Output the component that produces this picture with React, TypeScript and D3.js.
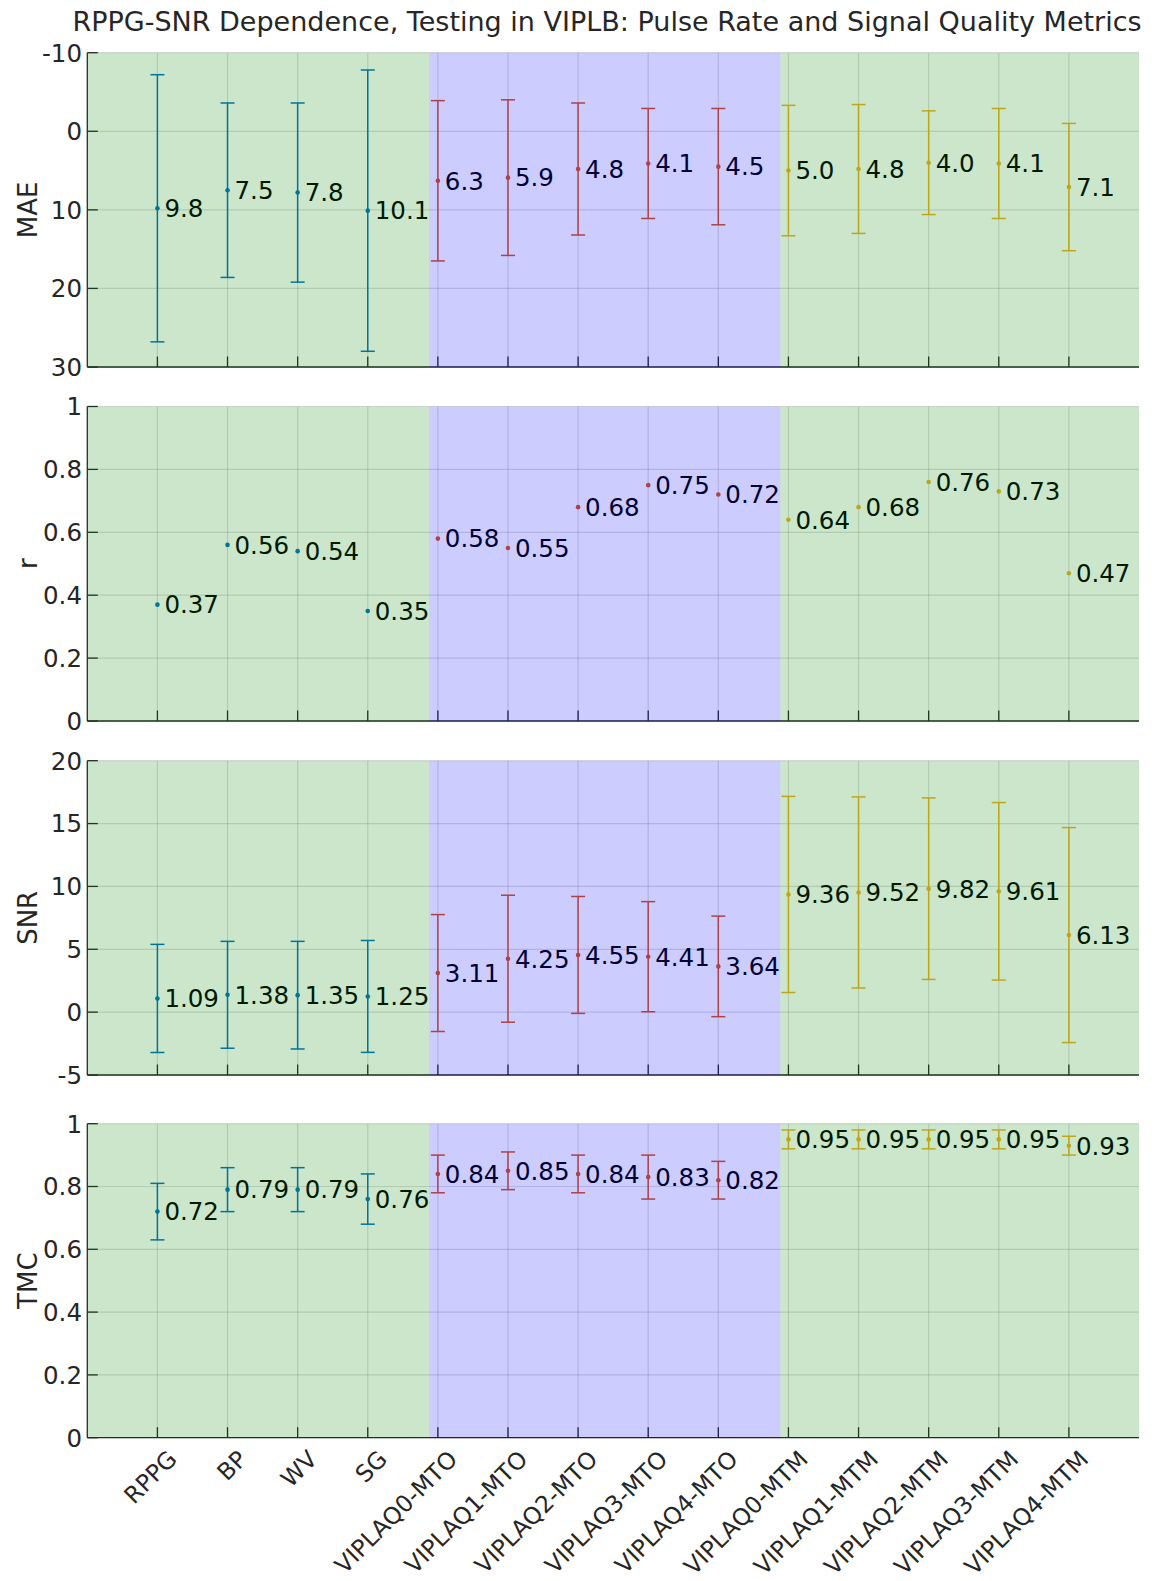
import React from 'react';
import * as d3 from 'd3';

const categories = ['RPPG', 'BP', 'WV', 'SG', 'VIPLAQ0-MTO', 'VIPLAQ1-MTO', 'VIPLAQ2-MTO', 'VIPLAQ3-MTO', 'VIPLAQ4-MTO', 'VIPLAQ0-MTM', 'VIPLAQ1-MTM', 'VIPLAQ2-MTM', 'VIPLAQ3-MTM', 'VIPLAQ4-MTM'];
const groupOf = [0, 0, 0, 0, 1, 1, 1, 1, 1, 2, 2, 2, 2, 2];

const maeMean = [9.8, 7.5, 7.8, 10.1, 6.3, 5.9, 4.8, 4.1, 4.5, 5.0, 4.8, 4.0, 4.1, 7.1];
const maeStd = [17.0, 11.1, 11.4, 17.9, 10.2, 9.9, 8.4, 7.0, 7.4, 8.3, 8.2, 6.6, 7.0, 8.1];
const rMean = [0.37, 0.56, 0.54, 0.35, 0.58, 0.55, 0.68, 0.75, 0.72, 0.64, 0.68, 0.76, 0.73, 0.47];
const snrMean = [1.09, 1.38, 1.35, 1.25, 3.11, 4.25, 4.55, 4.41, 3.64, 9.36, 9.52, 9.82, 9.61, 6.13];
const snrStd = [4.3, 4.25, 4.28, 4.45, 4.65, 5.05, 4.65, 4.38, 4.0, 7.8, 7.6, 7.22, 7.06, 8.55];
const tmcMean = [0.72, 0.79, 0.79, 0.76, 0.84, 0.85, 0.84, 0.83, 0.82, 0.95, 0.95, 0.95, 0.95, 0.93];
const tmcStd = [0.09, 0.07, 0.07, 0.08, 0.06, 0.06, 0.06, 0.07, 0.06, 0.03, 0.03, 0.03, 0.03, 0.03];

const maeTicks = [-10, 0, 10, 20, 30];
const rTicks = [0, 0.2, 0.4, 0.6, 0.8, 1];
const snrTicks = [-5, 0, 5, 10, 15, 20];
const tmcTicks = [0, 0.2, 0.4, 0.6, 0.8, 1];

const regionBounds = [0, 4.875, 9.885, 15];
const regionFills = ['rgb(0,128,0)', 'rgb(0,0,255)', 'rgb(0,128,0)'];
const groupColors = ['rgb(0,114,189)', 'rgb(217,83,25)', 'rgb(237,177,32)'];

const title = 'RPPG-SNR Dependence, Testing in VIPLB: Pulse Rate and Signal Quality Metrics';

const FONT = '"DejaVu Sans", sans-serif';
const AX = 'rgb(38,38,38)';

const panels = [
  { label: 'MAE', mean: maeMean, std: maeStd, ticks: maeTicks, domain: [-10, 30], reversed: true, digits: 1, top: 52.7, bottom: 367 },
  { label: 'r', mean: rMean, std: null, ticks: rTicks, domain: [0, 1], reversed: false, digits: 2, top: 406.5, bottom: 721 },
  { label: 'SNR', mean: snrMean, std: snrStd, ticks: snrTicks, domain: [-5, 20], reversed: false, digits: 2, top: 760.7, bottom: 1075 },
  { label: 'TMC', mean: tmcMean, std: tmcStd, ticks: tmcTicks, domain: [0, 1], reversed: false, digits: 2, top: 1123.7, bottom: 1437.7 },
];

const LEFT = 87.3;
const RIGHT = 1139;

export default function App() {
  const x = d3.scaleLinear().domain([0, 15]).range([LEFT, RIGHT]);
  const idx = categories.map((_, i) => i + 1);
  const tickFmt = (v: number) => (Number.isInteger(v) ? String(v) : d3.format('.1f')(v));

  return (
    <svg width={1156} height={1581} style={{ position: 'absolute', left: 0, top: 0, background: '#fff' }} fontFamily={FONT}>
      <text x={607} y={31} textAnchor="middle" fontSize={27} fill={AX}>{title}</text>
      {panels.map((p, pi) => {
        const y = d3.scaleLinear().domain(p.domain).range(p.reversed ? [p.top, p.bottom] : [p.bottom, p.top]);
        const mid = (p.top + p.bottom) / 2;
        return (
          <g key={pi}>
            {idx.map((c) => (
              <line key={'gx' + c} x1={x(c)} x2={x(c)} y1={p.top} y2={p.bottom} stroke={AX} strokeOpacity={0.15} strokeWidth={1.2} />
            ))}
            {p.ticks.map((t) => (
              <line key={'gy' + t} x1={LEFT} x2={RIGHT} y1={y(t)} y2={y(t)} stroke={AX} strokeOpacity={0.15} strokeWidth={1.2} />
            ))}
            <line x1={LEFT} x2={LEFT} y1={p.top} y2={p.bottom} stroke={AX} strokeWidth={1.3} />
            <line x1={LEFT} x2={RIGHT} y1={p.bottom} y2={p.bottom} stroke={AX} strokeWidth={1.3} />
            {p.ticks.map((t) => (
              <line key={'ty' + t} x1={LEFT} x2={LEFT + 10.5} y1={y(t)} y2={y(t)} stroke={AX} strokeWidth={1.3} />
            ))}
            {idx.map((c) => (
              <line key={'tx' + c} x1={x(c)} x2={x(c)} y1={p.bottom} y2={p.bottom - 10.5} stroke={AX} strokeWidth={1.3} />
            ))}
            {p.mean.map((m, i) => {
              const cx = x(i + 1);
              const col = groupColors[groupOf[i]];
              return (
                <g key={'e' + i}>
                  {p.std && (
                    <g stroke={col} strokeWidth={1.5}>
                      <line x1={cx} x2={cx} y1={y(m - p.std[i])} y2={y(m + p.std[i])} />
                      <line x1={cx - 7} x2={cx + 7} y1={y(m - p.std[i])} y2={y(m - p.std[i])} />
                      <line x1={cx - 7} x2={cx + 7} y1={y(m + p.std[i])} y2={y(m + p.std[i])} />
                    </g>
                  )}
                  <circle cx={cx} cy={y(m)} r={2.3} fill={col} />
                  <text x={cx + 7} y={y(m)} dy="0.36em" fontSize={24.5} fill="#000">{m.toFixed(p.digits)}</text>
                </g>
              );
            })}
            {regionFills.map((f, ri) => (
              <rect key={'r' + ri} x={x(regionBounds[ri])} y={p.top} width={x(regionBounds[ri + 1]) - x(regionBounds[ri])} height={p.bottom - p.top} fill={f} fillOpacity={0.2} />
            ))}
            {p.ticks.map((t) => (
              <text key={'yl' + t} x={82} y={y(t)} dy="0.36em" textAnchor="end" fontSize={24.5} fill={AX}>{tickFmt(t)}</text>
            ))}
            <text transform={`translate(37,${mid}) rotate(-90)`} textAnchor="middle" fontSize={26} fill={AX}>{p.label}</text>
          </g>
        );
      })}
      {categories.map((c, i) => (
        <text key={c} transform={`translate(${x(i + 1) + 15},${1437.7 + 17}) rotate(-45)`} textAnchor="end" dy="0.36em" fontSize={23.5} fill={AX}>{c}</text>
      ))}
    </svg>
  );
}
